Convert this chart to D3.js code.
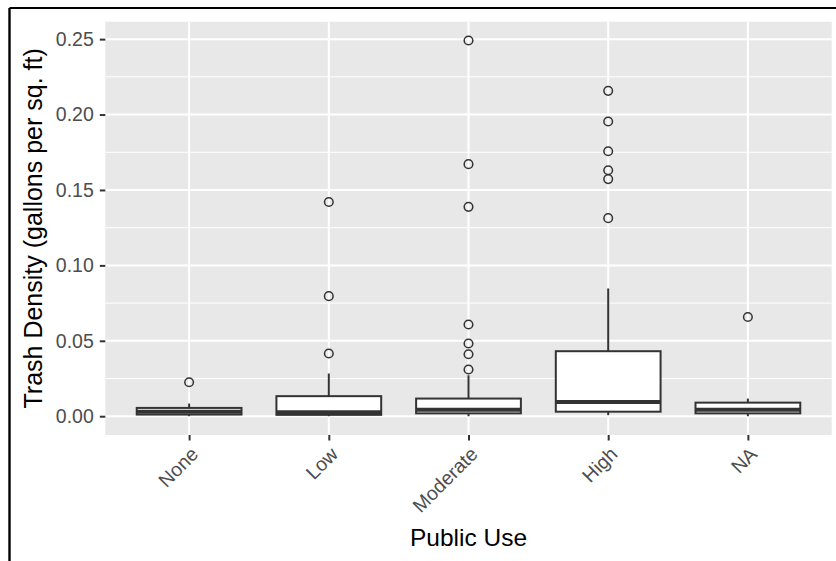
<!DOCTYPE html>
<html>
<head>
<meta charset="utf-8">
<script src="https://cdn.jsdelivr.net/npm/d3@7"></script>
<style>
  html, body { margin: 0; padding: 0; background: #ffffff; }
  svg { display: block; font-family: "Liberation Sans", Arial, Helvetica, sans-serif; }
</style>
</head>
<body>
<svg id="chart" width="836" height="561"></svg>
<script>
// ---- Data ----
const categories = ["None", "Low", "Moderate", "High", "NA"];
const whiskerLow  = [0.0000, 0.0000, 0.0000, 0.0007, 0.0000];
const q1          = [0.0011, 0.0009, 0.0019, 0.0030, 0.0019];
const median      = [0.0030, 0.0027, 0.0043, 0.0095, 0.0043];
const q3          = [0.0055, 0.0133, 0.0117, 0.0431, 0.0090];
const whiskerHigh = [0.0084, 0.0283, 0.0272, 0.0847, 0.0117];
const outliersNone     = [0.0225];
const outliersLow      = [0.0416, 0.0796, 0.1420];
const outliersModerate = [0.0310, 0.0411, 0.0482, 0.0608, 0.1388, 0.1671, 0.2491];
const outliersHigh     = [0.1313, 0.1572, 0.1631, 0.1757, 0.1954, 0.2157];
const outliersNA       = [0.0658];
const outliers = [outliersNone, outliersLow, outliersModerate, outliersHigh, outliersNA];
const yTicks = [0.00, 0.05, 0.10, 0.15, 0.20, 0.25];
const yMinorTicks = [0.025, 0.075, 0.125, 0.175, 0.225];
const xTitle = "Public Use";
const yTitle = "Trash Density (gallons per sq. ft)";

const boxes = categories.map((c, i) => ({
  cat: c, lo: whiskerLow[i], q1: q1[i], med: median[i], q3: q3[i], hi: whiskerHigh[i], out: outliers[i]
}));

// ---- Layout ----
const svg = d3.select("#chart");
const panel = { left: 105.3, right: 831.7, top: 21.7, bottom: 435 };

const allVals = boxes.flatMap(b => [b.lo, b.hi, ...b.out]);
const dMin = d3.min(allVals), dMax = d3.max(allVals);
const pad = (dMax - dMin) * 0.05;

const y = d3.scaleLinear().domain([dMin - pad, dMax + pad]).range([panel.bottom, panel.top]);
const x = d3.scalePoint().domain(categories).range([panel.left, panel.right]).padding(0.6);
const boxW = x.step() * 0.75;

// outer frame lines (top and left)
svg.append("line").attr("x1", 9.5).attr("x2", 836).attr("y1", 8).attr("y2", 8)
  .attr("stroke", "#000").attr("stroke-width", 2.2);
svg.append("line").attr("x1", 9.5).attr("x2", 9.5).attr("y1", 8).attr("y2", 561)
  .attr("stroke", "#000").attr("stroke-width", 2.4);

// panel background
svg.append("rect")
  .attr("x", panel.left).attr("y", panel.top)
  .attr("width", panel.right - panel.left).attr("height", panel.bottom - panel.top)
  .attr("fill", "#E8E8E8");

const grid = svg.append("g");
grid.selectAll("line.minor").data(yMinorTicks).join("line")
  .attr("class", "minor")
  .attr("x1", panel.left).attr("x2", panel.right)
  .attr("y1", d => y(d)).attr("y2", d => y(d))
  .attr("stroke", "#fff").attr("stroke-width", 1.0);
grid.selectAll("line.majory").data(yTicks).join("line")
  .attr("class", "majory")
  .attr("x1", panel.left).attr("x2", panel.right)
  .attr("y1", d => y(d)).attr("y2", d => y(d))
  .attr("stroke", "#fff").attr("stroke-width", 2.0);
grid.selectAll("line.majorx").data(categories).join("line")
  .attr("class", "majorx")
  .attr("x1", d => x(d)).attr("x2", d => x(d))
  .attr("y1", panel.top).attr("y2", panel.bottom)
  .attr("stroke", "#fff").attr("stroke-width", 2.0);

// ---- Boxplots ----
const stroke = "#333333";
const g = svg.append("g");
const bx = g.selectAll("g.box").data(boxes).join("g").attr("class", "box");

// whiskers
bx.append("line")
  .attr("x1", d => x(d.cat)).attr("x2", d => x(d.cat))
  .attr("y1", d => y(d.q3)).attr("y2", d => y(d.hi))
  .attr("stroke", stroke).attr("stroke-width", 2.0);
bx.append("line")
  .attr("x1", d => x(d.cat)).attr("x2", d => x(d.cat))
  .attr("y1", d => y(d.q1)).attr("y2", d => y(d.lo))
  .attr("stroke", stroke).attr("stroke-width", 2.0);
// box
bx.append("rect")
  .attr("x", d => x(d.cat) - boxW / 2).attr("width", boxW)
  .attr("y", d => y(d.q3)).attr("height", d => y(d.q1) - y(d.q3))
  .attr("fill", "#fff").attr("stroke", stroke).attr("stroke-width", 2.0);
// median
bx.append("line")
  .attr("x1", d => x(d.cat) - boxW / 2).attr("x2", d => x(d.cat) + boxW / 2)
  .attr("y1", d => y(d.med)).attr("y2", d => y(d.med))
  .attr("stroke", stroke).attr("stroke-width", 4.0);
// outliers
bx.selectAll("circle").data(d => d.out.map(v => ({ cat: d.cat, v }))).join("circle")
  .attr("cx", d => x(d.cat)).attr("cy", d => y(d.v)).attr("r", 4.3)
  .attr("fill", "none").attr("stroke", stroke).attr("stroke-width", 1.5);

// ---- Axes ----
const yAxis = svg.append("g").attr("transform", `translate(${panel.left},0)`)
  .call(d3.axisLeft(y).tickValues(yTicks).tickFormat(d3.format(".2f")).tickSizeInner(5.5).tickSizeOuter(0).tickPadding(6));
yAxis.select(".domain").remove();
yAxis.selectAll(".tick line").attr("stroke", stroke).attr("stroke-width", 2.0);
yAxis.selectAll(".tick text").attr("fill", "#4D4D4D").attr("font-size", 19.5)
  .attr("font-family", "Liberation Sans, Arial, sans-serif");

const xAxis = svg.append("g").attr("transform", `translate(0,${panel.bottom})`)
  .call(d3.axisBottom(x).tickSizeInner(5.5).tickSizeOuter(0).tickPadding(0));
xAxis.select(".domain").remove();
xAxis.selectAll(".tick line").attr("stroke", stroke).attr("stroke-width", 2.0);
xAxis.selectAll(".tick text")
  .attr("fill", "#4D4D4D").attr("font-size", 19.5)
  .attr("font-family", "Liberation Sans, Arial, sans-serif")
  .attr("text-anchor", "end")
  .attr("y", 0).attr("dy", "0.72em")
  .attr("transform", "translate(0,10.5) rotate(-45)");

// titles
svg.append("text")
  .attr("x", (panel.left + panel.right) / 2).attr("y", 546)
  .attr("text-anchor", "middle").attr("font-size", 24.5).attr("fill", "#000")
  .text(xTitle);
svg.append("text")
  .attr("transform", `translate(41.5,${(panel.top + panel.bottom) / 2}) rotate(-90)`)
  .attr("text-anchor", "middle").attr("font-size", 25).attr("fill", "#000")
  .text(yTitle);
</script>
</body>
</html>
